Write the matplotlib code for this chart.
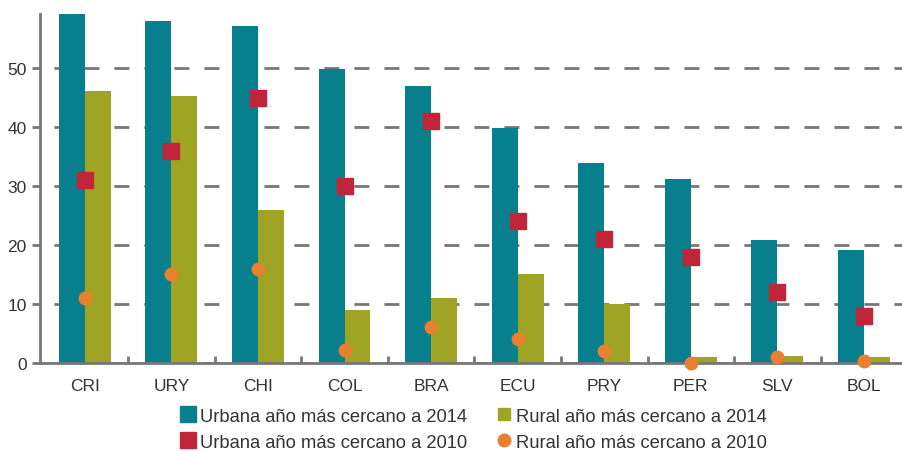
import numpy as np
import matplotlib
matplotlib.use("Agg")
import matplotlib.pyplot as plt
from matplotlib.lines import Line2D

plt.rcParams['font.family'] = ['Liberation Sans', 'DejaVu Sans']

countries = ["CRI", "URY", "CHI", "COL", "BRA", "ECU", "PRY", "PER", "SLV", "BOL"]
urbana_2014 = [62.0, 58.0, 57.1, 49.9, 47.0, 39.8, 33.9, 31.2, 20.9, 19.1]
rural_2014 = [46.1, 45.3, 25.9, 9.0, 11.0, 15.1, 10.0, 1.0, 1.2, 1.0]
urbana_2010 = [31, 36, 45, 30, 41, 24, 21, 18, 12, 8]
rural_2010 = [11, 15, 16, 2.2, 6, 4, 2, 0, 1, 0.3]

teal = "#087F8C"
olive = "#A0A424"
red = "#C0253A"
orange = "#E8812F"
gray = "#777777"

fig = plt.figure(figsize=(9.03, 4.52), dpi=100)
ax = fig.add_axes([0.044, 0.195, 0.956, 0.772])

x = np.arange(len(countries))
w = 0.3
ax.bar(x - w / 2, urbana_2014, w, color=teal, zorder=2)
ax.bar(x + w / 2, rural_2014, w, color=olive, zorder=2)
ax.plot(x, urbana_2010, linestyle="none", marker="s", markersize=11, color=red, zorder=4)
ax.plot(x, rural_2010, linestyle="none", marker="o", markersize=9, color=orange, zorder=4,
        clip_on=False)

ax.set_xlim(-0.52, 9.45)
ax.set_ylim(0, 59.2)
ax.set_yticks([0, 10, 20, 30, 40, 50])
ax.set_xticks(x)
ax.set_xticklabels(countries)
ax.set_xticks(x[:-1] + 0.5, minor=True)
ax.tick_params(axis="x", which="major", length=0, pad=11, labelsize=12.5, labelcolor="#333333")
ax.tick_params(axis="x", which="minor", length=5, width=2, direction="in", color=gray)
ax.tick_params(axis="y", length=6, width=2, color=gray, labelsize=12.5, labelcolor="#333333")

ax.yaxis.grid(True, linestyle=(5.8, (5.4, 5.4)), linewidth=2, color=gray, zorder=1)
ax.set_axisbelow(True)
for s in ["top", "right"]:
    ax.spines[s].set_visible(False)
for s in ["left", "bottom"]:
    ax.spines[s].set_color(gray)
    ax.spines[s].set_linewidth(2)

handles = [
    Line2D([], [], linestyle="none", marker="s", markersize=12, color=teal),
    Line2D([], [], linestyle="none", marker="s", markersize=12, color=red),
    Line2D([], [], linestyle="none", marker="s", markersize=9, color=olive),
    Line2D([], [], linestyle="none", marker="o", markersize=9, color=orange),
]
labels = [
    "Urbana año más cercano a 2014",
    "Urbana año más cercano a 2010",
    "Rural año más cercano a 2014",
    "Rural año más cercano a 2010",
]
fig.legend(handles, labels, ncol=2, loc="upper left", bbox_to_anchor=(0.183, 0.128),
           frameon=False, fontsize=13.2, handletextpad=0.2, columnspacing=1.55,
           labelspacing=0.48, handlelength=0.9, labelcolor="#333333", borderpad=0.3)

fig.savefig("out.png", dpi=100)
